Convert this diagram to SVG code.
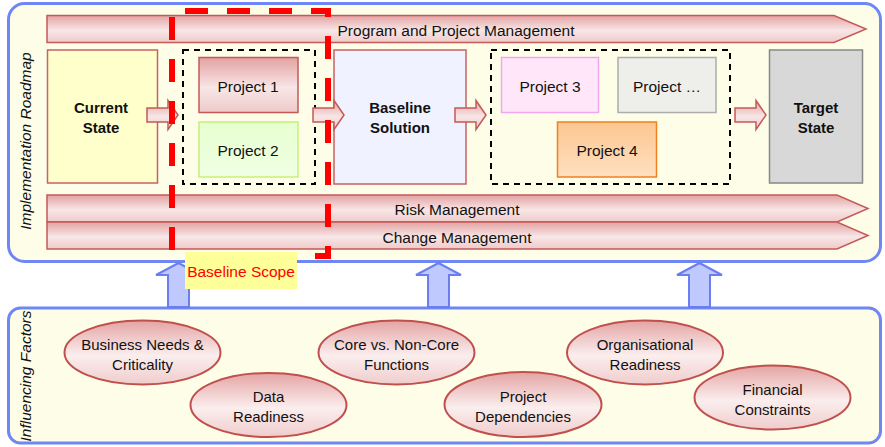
<svg xmlns="http://www.w3.org/2000/svg" width="885" height="447" viewBox="0 0 885 447">
<defs>
  <linearGradient id="pink" x1="0" y1="0" x2="0" y2="1">
    <stop offset="0" stop-color="#e3a2a2"/>
    <stop offset="0.55" stop-color="#f8e6e6"/>
    <stop offset="1" stop-color="#efcaca"/>
  </linearGradient>
  <linearGradient id="ell" x1="0" y1="0" x2="0" y2="1">
    <stop offset="0" stop-color="#e4a4a4"/>
    <stop offset="0.55" stop-color="#fbeeee"/>
    <stop offset="1" stop-color="#f0cccc"/>
  </linearGradient>
  <linearGradient id="orange" x1="0" y1="0" x2="0" y2="1">
    <stop offset="0" stop-color="#fcc690"/>
    <stop offset="1" stop-color="#ffe0c0"/>
  </linearGradient>
  <linearGradient id="green" x1="0" y1="0" x2="0" y2="1">
    <stop offset="0" stop-color="#e6ffd0"/>
    <stop offset="1" stop-color="#f0ffe4"/>
  </linearGradient>
  <style>
    text { font-family: "Liberation Sans", Arial, sans-serif; fill: #111; }
    .panel { fill: #fefee8; stroke: #6f86f5; stroke-width: 3; }
    .banner { fill: url(#pink); stroke: #c45a58; stroke-width: 1.5; }
    .bt { font-size: 15.5px; text-anchor: middle; }
    .box { stroke-width: 1.5; }
    .lbl { font-size: 15.5px; text-anchor: middle; }
    .bold { font-size: 15px; font-weight: bold; text-anchor: middle; }
    .dash { fill: none; stroke: #000; stroke-width: 2; stroke-dasharray: 6 5; }
    .parrow { fill: url(#pink); stroke: #c45a58; stroke-width: 1.5; }
    .barrow { fill: #bfc9fd; stroke: #6a7ef2; stroke-width: 2; }
    .ellipse { fill: url(#ell); stroke: #c0504d; stroke-width: 2; }
    .et { font-size: 15px; text-anchor: middle; }
    .side { font-size: 15.5px; font-style: italic; text-anchor: middle; }
  </style>
</defs>

<!-- panels -->
<g id="roadmap-panel">
  <rect class="panel" x="8.5" y="3.5" width="872" height="258" rx="16"/>
  <text class="side" transform="translate(31,141) rotate(-90)">Implementation Roadmap</text>
</g>
<g id="factors-panel">
  <rect class="panel" x="8.5" y="308" width="872" height="135" rx="12"/>
  <text class="side" transform="translate(31,376) rotate(-90)">Influencing Factors</text>
</g>

<!-- banners -->
<g id="program-management">
  <polygon class="banner" points="47,15.5 834,15.5 866,29 834,42.5 47,42.5"/>
  <text class="bt" x="456" y="36">Program and Project Management</text>
</g>
<g id="risk-management">
  <polygon class="banner" points="47,195 837,195 868,208.5 837,222 47,222"/>
  <text class="bt" x="457" y="215">Risk Management</text>
</g>
<g id="change-management">
  <polygon class="banner" points="47,222 837,222 868,235.5 837,249 47,249"/>
  <text class="bt" x="457" y="243">Change Management</text>
</g>

<!-- state boxes -->
<g id="current-state">
  <rect class="box" x="47.5" y="50" width="110" height="133" fill="#ffffcc" stroke="#c86262"/>
  <text class="bold" x="101" y="113">Current</text>
  <text class="bold" x="101" y="133">State</text>
</g>
<g id="baseline-group">
  <rect class="dash" x="183" y="50" width="132" height="134"/>
</g>
<g id="project-1">
  <rect class="box" x="199" y="57.5" width="99" height="55" fill="url(#pink)" stroke="#c45a58"/>
  <text class="lbl" x="248" y="92">Project 1</text>
</g>
<g id="project-2">
  <rect class="box" x="199" y="122" width="99" height="55" fill="url(#green)" stroke="#c8f07a"/>
  <text class="lbl" x="248" y="156">Project 2</text>
</g>
<g id="baseline-solution">
  <rect class="box" x="334" y="50" width="132" height="134" fill="#f0f2ff" stroke="#c86262"/>
  <text class="bold" x="400" y="113">Baseline</text>
  <text class="bold" x="400" y="133">Solution</text>
</g>
<g id="future-group">
  <rect class="dash" x="491" y="50" width="239" height="134"/>
</g>
<g id="project-3">
  <rect class="box" x="501.5" y="57.5" width="97" height="55" fill="#ffe6f8" stroke="#f2a6ee"/>
  <text class="lbl" x="550" y="92">Project 3</text>
</g>
<g id="project-more">
  <rect class="box" x="618" y="57.5" width="98" height="55" fill="#eeeeea" stroke="#acacac"/>
  <text class="lbl" x="667" y="92">Project …</text>
</g>
<g id="project-4">
  <rect class="box" x="557.5" y="122" width="99" height="55" fill="url(#orange)" stroke="#f08020"/>
  <text class="lbl" x="607" y="156">Project 4</text>
</g>
<g id="target-state">
  <rect class="box" x="769.5" y="50" width="93" height="133" fill="#d8d8d8" stroke="#888888" stroke-width="2"/>
  <text class="bold" x="816" y="113">Target</text>
  <text class="bold" x="816" y="133">State</text>
</g>

<!-- connectors -->
<g id="connectors">
  <polygon class="parrow" points="147,108 168,108 168,100.5 178,115 168,129.5 168,122 147,122"/>
  <polygon class="parrow" points="313,108 334,108 334,100.5 344,115 334,129.5 334,122 313,122"/>
  <polygon class="parrow" points="455,108 476,108 476,100.5 486,115 476,129.5 476,122 455,122"/>
  <polygon class="parrow" points="735,108 756,108 756,100.5 766,115 756,129.5 756,122 735,122"/>
  <polygon class="barrow" points="178.5,263 201,275 189,275 189,307 168,307 168,275 156,275"/>
  <polygon class="barrow" points="438.5,263 461,275 449,275 449,307 428,307 428,275 416,275"/>
  <polygon class="barrow" points="699.5,263 722,275 710,275 710,307 689,307 689,275 677,275"/>
</g>

<!-- baseline scope -->
<g id="baseline-scope">
  <path d="M172,256 V11 H328 V256 Z" fill="none" stroke="#ff0000" stroke-width="6" stroke-dasharray="23 19" stroke-dashoffset="-6"/>
  <rect x="185" y="252" width="112" height="37" fill="#ffff99"/>
  <text x="241" y="277" font-size="15.5" text-anchor="middle" style="fill:#ff0000">Baseline Scope</text>
</g>

<!-- influencing factors -->
<g id="business-needs">
  <ellipse class="ellipse" cx="142.5" cy="352.5" rx="78" ry="32"/>
  <text class="et" x="142.5" y="350">Business Needs &amp;</text>
  <text class="et" x="142.5" y="370">Criticality</text>
</g>
<g id="data-readiness">
  <ellipse class="ellipse" cx="268.5" cy="405" rx="78" ry="32"/>
  <text class="et" x="268.5" y="402">Data</text>
  <text class="et" x="268.5" y="422">Readiness</text>
</g>
<g id="core-functions">
  <ellipse class="ellipse" cx="396.5" cy="352.5" rx="78" ry="32"/>
  <text class="et" x="396.5" y="350">Core vs. Non-Core</text>
  <text class="et" x="396.5" y="370">Functions</text>
</g>
<g id="project-dependencies">
  <ellipse class="ellipse" cx="523" cy="404.5" rx="78.5" ry="32.5"/>
  <text class="et" x="523" y="402">Project</text>
  <text class="et" x="523" y="422">Dependencies</text>
</g>
<g id="organisational-readiness">
  <ellipse class="ellipse" cx="645" cy="352.5" rx="78" ry="32"/>
  <text class="et" x="645" y="350">Organisational</text>
  <text class="et" x="645" y="370">Readiness</text>
</g>
<g id="financial-constraints">
  <ellipse class="ellipse" cx="772.5" cy="397.5" rx="78" ry="32"/>
  <text class="et" x="772.5" y="395">Financial</text>
  <text class="et" x="772.5" y="415">Constraints</text>
</g>
</svg>
